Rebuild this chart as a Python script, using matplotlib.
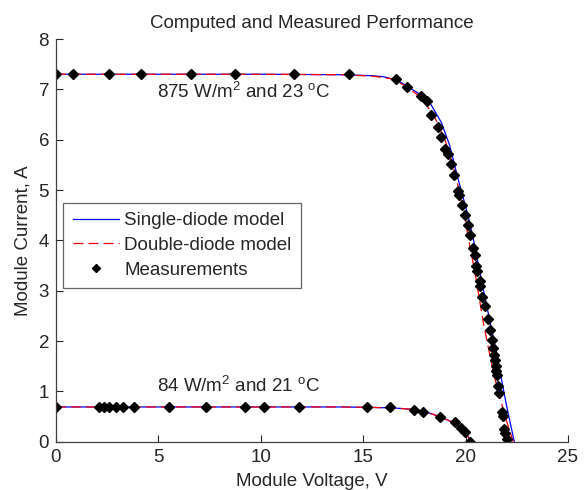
import matplotlib
matplotlib.use("Agg")
import matplotlib.pyplot as plt

plt.rcParams['font.family'] = ['Liberation Sans', 'DejaVu Sans']
plt.rcParams['mathtext.fontset'] = 'custom'
plt.rcParams['mathtext.rm'] = 'Liberation Sans'
plt.rcParams['mathtext.it'] = 'Liberation Sans'

# Single-diode model curves (voltage V, current A)
single_hi_v = [0, 5, 10, 14, 15.5, 16.0, 16.6, 17.0, 17.35, 17.9, 18.25, 18.82, 19.23,
               19.64, 20.13, 20.38, 20.87, 21.44, 22.01, 22.38]
single_hi_i = [7.30, 7.30, 7.30, 7.29, 7.27, 7.25, 7.19, 7.10, 7.01, 6.87, 6.74, 6.34, 5.88,
               5.21, 4.48, 4.02, 3.02, 1.90, 0.70, 0.0]
single_lo_v = [0, 5, 10, 14, 15.5, 16.5, 17.5, 18.0, 18.8, 19.5, 19.9, 20.1, 20.25]
single_lo_i = [0.69, 0.69, 0.69, 0.69, 0.68, 0.67, 0.64, 0.60, 0.49, 0.36, 0.22, 0.12, 0.0]

# Double-diode model curves
double_hi_v = [0, 5, 10, 14, 15.5, 16.37, 17.0, 17.84, 18.5, 18.99, 19.48, 19.97, 20.1,
               20.46, 20.87, 21.36, 21.93, 22.33]
double_hi_i = [7.30, 7.30, 7.30, 7.29, 7.26, 7.21, 7.08, 6.84, 6.44, 6.01, 5.35, 4.48, 4.12,
               3.36, 2.36, 1.37, 0.50, 0.0]
double_lo_v = [0, 5, 10, 14, 15.5, 16.5, 17.5, 18.0, 18.8, 19.5, 19.9, 20.1, 20.23]
double_lo_i = [0.69, 0.69, 0.69, 0.69, 0.68, 0.67, 0.64, 0.60, 0.49, 0.36, 0.22, 0.12, 0.0]

# Measured points, 875 W/m2 and 23 C
meas_hi_v = [0, 0.85, 2.6, 4.15, 6.6, 8.75, 11.6, 14.3, 16.58, 17.12, 17.8, 18.1, 18.33,
             18.65, 18.78, 19.0, 19.14, 19.31, 19.42, 19.65, 19.7, 19.81, 19.96, 20.12,
             20.24, 20.34, 20.45, 20.53, 20.58, 20.69, 20.71, 20.81, 20.96, 21.1, 21.2,
             21.27, 21.35, 21.4, 21.45, 21.48, 21.51, 21.54, 21.59, 21.64, 21.77, 21.84,
             21.89, 21.94, 22.0]
meas_hi_i = [7.3, 7.3, 7.3, 7.3, 7.3, 7.3, 7.3, 7.3, 7.2, 7.05, 6.86, 6.76, 6.49,
             6.26, 6.06, 5.81, 5.71, 5.51, 5.30, 4.98, 4.90, 4.70, 4.50, 4.30,
             4.11, 3.85, 3.70, 3.50, 3.39, 3.19, 3.10, 2.88, 2.69, 2.43, 2.21,
             2.03, 1.86, 1.73, 1.63, 1.51, 1.40, 1.32, 1.10, 0.97, 0.58, 0.52,
             0.26, 0.17, 0.05]

# Measured points, 84 W/m2 and 21 C
meas_lo_v = [0, 2.11, 2.35, 2.58, 2.94, 3.28, 3.81, 5.54, 7.35, 9.23, 10.16, 11.85,
             15.2, 16.3, 17.48, 17.93, 18.73, 19.47, 19.76, 19.98, 20.2]
meas_lo_i = [0.69, 0.69, 0.69, 0.69, 0.69, 0.69, 0.69, 0.69, 0.69, 0.69, 0.69, 0.69,
             0.68, 0.68, 0.63, 0.58, 0.49, 0.40, 0.28, 0.19, 0.0]

x_ticks = [0, 5, 10, 15, 20, 25]
y_ticks = [0, 1, 2, 3, 4, 5, 6, 7, 8]

fs = 13.5
txt = '#262626'
mk = dict(marker='D', linestyle='none', color='black', ms=4.6)
dash = (8, 4)

fig = plt.figure(figsize=(5.88, 4.90), dpi=100)
ax = fig.add_axes([0.0952, 0.0986, 0.8707, 0.8218])

ax.plot(single_hi_v, single_hi_i, '-', color='#0000ff', lw=0.9, label='Single-diode model')
ax.plot(double_hi_v, double_hi_i, '--', color='#ff0000', lw=0.9, dashes=dash,
        label='Double-diode model')
ax.plot(meas_hi_v, meas_hi_i, label='Measurements', **mk)
ax.plot(single_lo_v, single_lo_i, '-', color='#0000ff', lw=0.9)
ax.plot(double_lo_v, double_lo_i, '--', color='#ff0000', lw=0.9, dashes=dash)
ax.plot(meas_lo_v, meas_lo_i, **mk)

ax.set_xlim(0, 25)
ax.set_ylim(0, 8)
ax.set_xticks(x_ticks)
ax.set_yticks(y_ticks)
ax.tick_params(direction='in', length=5, width=0.8, colors=txt, labelsize=fs,
               top=False, right=False)
ax.tick_params(axis='x', pad=5)
ax.tick_params(axis='y', pad=5)
for s in ('top', 'right'):
    ax.spines[s].set_visible(False)
for s in ('left', 'bottom'):
    ax.spines[s].set_color('#404040')
    ax.spines[s].set_linewidth(0.9)

ax.text(4.95, 6.83, '875 W/m$^2$ and 23 $^\\mathrm{o}$C', fontsize=fs, color=txt,
        ha='left', va='baseline')
ax.text(4.95, 0.99, '84 W/m$^2$ and 21 $^\\mathrm{o}$C', fontsize=fs, color=txt,
        ha='left', va='baseline')

ax.set_title('Computed and Measured Performance', fontsize=fs, color=txt, pad=8)
ax.set_xlabel('Module Voltage, V', fontsize=fs, color=txt, labelpad=5)
ax.set_ylabel('Module Current, A', fontsize=fs, color=txt, labelpad=5)

leg = ax.legend(loc='upper left', bbox_to_anchor=(0.014, 0.593), fontsize=fs,
                frameon=True, fancybox=False, borderpad=0.5, labelspacing=0.4,
                handlelength=2.5, handletextpad=0.25, borderaxespad=0,
                markerscale=0.8)
leg.get_frame().set_edgecolor('#404040')
leg.get_frame().set_linewidth(0.9)
for t in leg.get_texts():
    t.set_color(txt)

fig.savefig('out.png', dpi=100)
